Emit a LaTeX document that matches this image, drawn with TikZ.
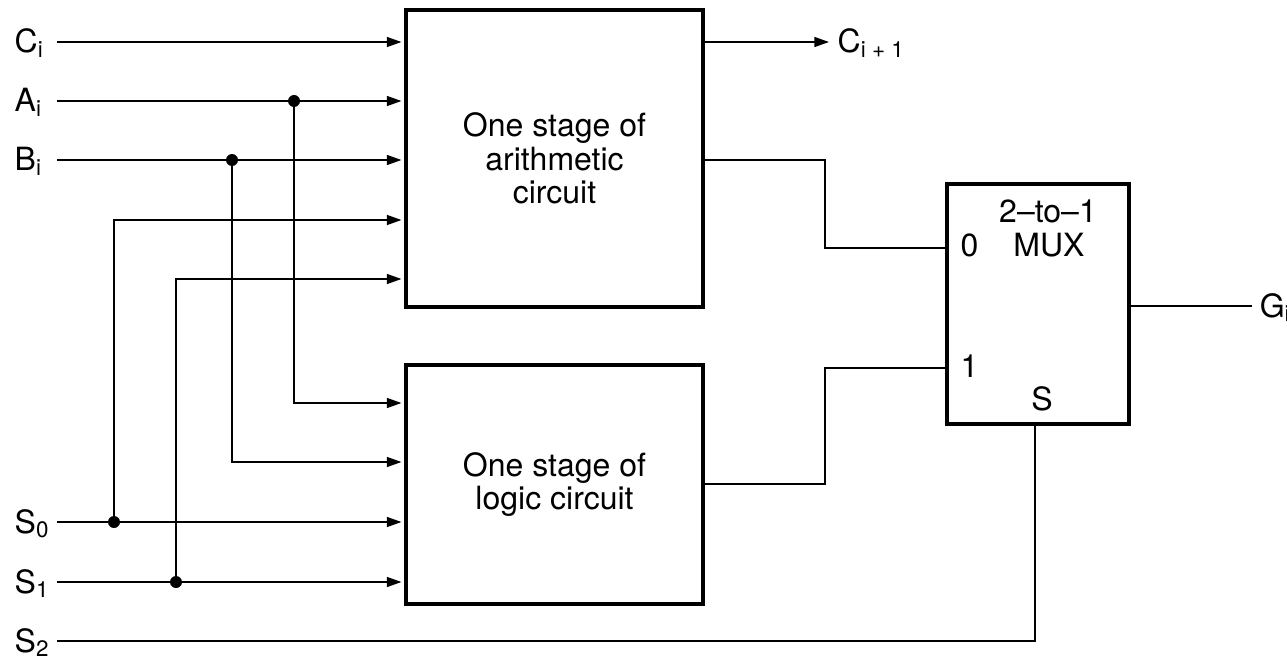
\documentclass[tikz,border=0pt]{standalone}
\usepackage{fontspec}
\setmainfont{TeX Gyre Heros}
\usetikzlibrary{arrows.meta}

\tikzset{every picture/.style={line width=1.1pt}}
\tikzset{
    stagebox/.style={draw, line width=3.6pt, inner sep=0pt, align=center, font=\fontsize{24}{25}\selectfont},
    siglabel/.style={anchor=base west, inner sep=0pt, font=\fontsize{24}{25}\selectfont},
    sigarrow/.style={-{Triangle[length=11pt,width=7.5pt]}, shorten >=1.6pt},
    tapdot/.style={fill=black, circle, inner sep=0pt, minimum size=9pt}
}

\begin{document}
\begin{tikzpicture}[
            x=0.75pt,
            y=0.75pt,
            yscale=-1,
            xscale=1
        ]
            \useasboundingbox (0,0) rectangle (1287,659);

            % blocks
            \node[stagebox, minimum width=222.75pt, minimum height=222.75pt] (arith) at (554.5,158.5) {One stage of\\arithmetic\\circuit};
            \node[stagebox, minimum width=222.75pt, minimum height=179.25pt] (logic) at (554.5,484.5) {One stage of\\logic circuit};
            \node[stagebox, minimum width=136.5pt, minimum height=180pt] (mux) at (1038,304) {};
            \node[siglabel, anchor=base] (muxtop) at (1048,223) {2--to--1};
            \node[siglabel, anchor=base] (muxname) at (1049,257) {MUX};
            \node[siglabel] (pinzero) at (960,257) {0};
            \node[siglabel] (pinone) at (960,377) {1};
            \node[siglabel, anchor=base] (pinsel) at (1042,410) {S};

            % inputs
            \foreach \nm/\lbl/\y in {ci/C\textsubscript{i}/42, ai/A\textsubscript{i}/101, bi/B\textsubscript{i}/160, sz/S\textsubscript{0}/522, so/S\textsubscript{1}/582, st/S\textsubscript{2}/641}{
                \node[siglabel] (\nm) at (14,\y+11) {\lbl};
                \coordinate (\nm-w) at (57,\y);
            }
            \draw[sigarrow] (ci-w) -- (ci-w -| arith.west);
            \draw[sigarrow] (ai-w) -- (ai-w -| arith.west);
            \draw[sigarrow] (bi-w) -- (bi-w -| arith.west);
            \draw[sigarrow] (sz-w) -- (sz-w -| logic.west);
            \draw[sigarrow] (so-w) -- (so-w -| logic.west);

            % branch points
            \node[tapdot] (ai-dot) at (294,101) {};
            \node[tapdot] (bi-dot) at (232,160) {};
            \node[tapdot] (sz-dot) at (114,522) {};
            \node[tapdot] (so-dot) at (176,582) {};
            \draw[sigarrow] (sz-dot.center) |- (arith.west |- 0,220);
            \draw[sigarrow] (so-dot.center) |- (arith.west |- 0,279);
            \draw[sigarrow] (ai-dot.center) |- (logic.west |- 0,403);
            \draw[sigarrow] (bi-dot.center) |- (logic.west |- 0,462);

            % outputs
            \node[siglabel] (cout) at (837,53) {C\textsubscript{i + 1}};
            \draw[sigarrow, shorten >=6pt] (arith.east |- ci-w) -- (cout.west |- ci-w);
            \draw (arith.east |- bi-w) -| (825,248) -- (mux.west |- 0,248);
            \draw (logic.east |- 0,484) -| (825,368) -- (mux.west |- 0,368);
            \draw (st-w) -| (mux.south -| 1035,0);

            \coordinate (gout-w) at (1252,306);
            \node[siglabel] (gout) at (1259,317) {G\textsubscript{i}};
            \draw (mux.east |- gout-w) -- (gout-w);
        \end{tikzpicture}
\end{document}
